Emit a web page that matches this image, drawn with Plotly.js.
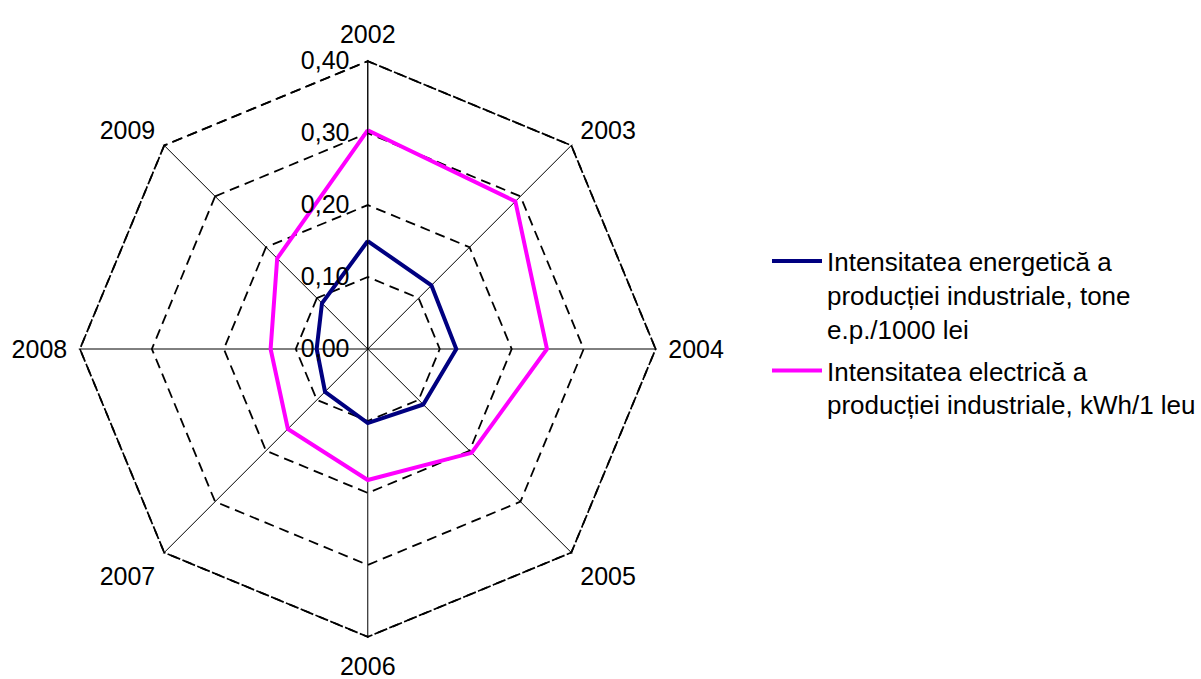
<!DOCTYPE html>
<html>
<head>
<meta charset="utf-8">
<script src="https://cdn.plot.ly/plotly-3.0.1.min.js"></script>
<style>html,body{margin:0;padding:0;background:#fff}#chart{width:1201px;height:679px}</style>
</head>
<body>
<div id="chart"></div>
<script>
const years = ["2002","2003","2004","2005","2006","2007","2008","2009"];
const energyIntensity = [0.150, 0.125, 0.123, 0.109, 0.103, 0.084, 0.071, 0.090];
const electricIntensity = [0.304, 0.290, 0.249, 0.204, 0.182, 0.157, 0.135, 0.178];
const radialTicks = [0, 0.1, 0.2, 0.3, 0.4];
const seriesNames = [
  "Intensitatea energetică a<br>producției industriale, tone<br>e.p./1000 lei",
  "Intensitatea electrică a<br>producției industriale, kWh/1 leu"
];

function closed(a){ return a.concat([a[0]]); }

const FONT = "Liberation Sans, Arial, sans-serif";
const rMax = Math.max.apply(null, radialTicks);

const data = [
  // outer dashed ring at the top tick (Plotly omits the grid line on the outer edge)
  {type:'scatterpolar', mode:'lines', r: closed(years.map(function(){return rMax;})), theta: closed(years),
   showlegend:false, hoverinfo:'skip', line:{color:'#000', width:1.8, dash:'10px,6px'}},
  {type:'scatterpolar', mode:'lines', r: closed(energyIntensity), theta: closed(years),
   name: seriesNames[0], legendgroup:'a', line:{color:'#000080', width:4}},
  {type:'scatterpolar', mode:'lines', r: closed(electricIntensity), theta: closed(years),
   name: seriesNames[1], legendgroup:'b', line:{color:'#FF00FF', width:4}}
];

const layout = {
  width:1201, height:679,
  margin:{l:0,r:0,t:0,b:0},
  paper_bgcolor:'#fff',
  separators:', ',
  font:{family:FONT, size:25, color:'#000'},
  showlegend:true,
  legend:{x:0.641, y:0.650, xanchor:'left', yanchor:'top', valign:'top', itemwidth:50,
          font:{family:FONT, size:26, color:'#000'}, tracegroupgap:5, bgcolor:'rgba(0,0,0,0)'},
  polar:{
    domain:{x:[79/1201, 659/1201], y:[40/679, 620/679]},
    gridshape:'linear',
    bgcolor:'#fff',
    angularaxis:{type:'category', categoryarray:years, rotation:90, direction:'clockwise',
      showline:false, gridcolor:'#000', gridwidth:1, ticks:'outside', ticklen:6,
      tickcolor:'rgba(0,0,0,0)',
      tickfont:{family:FONT, size:25, color:'#000'}},
    radialaxis:{range:[0,rMax*1.004], tickvals:radialTicks, tickformat:'.2f', angle:90, tickangle:90,
      side:'counterclockwise', showline:true, linecolor:'#000', linewidth:1,
      gridcolor:'#000', griddash:'10px,6px', gridwidth:1.8,
      ticks:'outside', ticklen:9, tickcolor:'rgba(0,0,0,0)',
      tickfont:{family:FONT, size:25, color:'#000'}}
  }
};

Plotly.newPlot('chart', data, layout, {displayModeBar:false, staticPlot:true});
</script>
</body>
</html>
